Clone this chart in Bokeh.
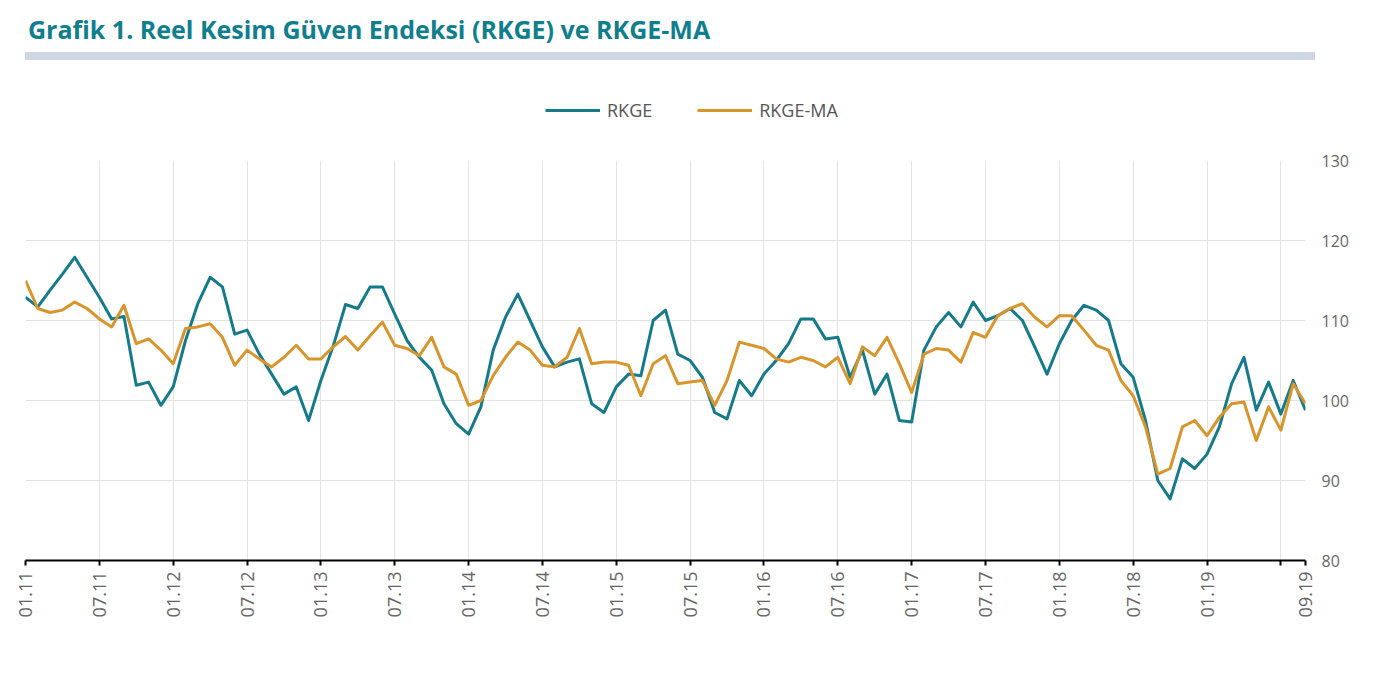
import math
from bokeh.plotting import figure
from bokeh.models import (Div, FixedTicker, Legend, LegendItem, ColumnDataSource)
from bokeh.layouts import column
from bokeh.embed import file_html
from bokeh.resources import INLINE

# ---- data ----
months = [f"{m:02d}.{y}" for y in range(11, 20) for m in range(1, 13)][:105]

rkge = [
    112.9, 111.7, 113.8, 115.8, 117.9, 115.4, 112.9, 110.2, 110.5, 101.9,
    102.3, 99.4, 101.7, 107.5, 112.1, 115.4, 114.2, 108.3, 108.8, 105.8,
    103.3, 100.8, 101.7, 97.5, 102.5, 106.8, 112.0, 111.5, 114.2, 114.2,
    110.8, 107.5, 105.4, 103.8, 99.6, 97.1, 95.8, 99.2, 106.3, 110.4,
    113.3, 110.0, 106.7, 104.2, 104.8, 105.2, 99.6, 98.5, 101.7, 103.3,
    103.1, 110.0, 111.3, 105.8, 105.0, 102.9, 98.5, 97.7, 102.5, 100.6,
    103.3, 105.0, 107.1, 110.2, 110.2, 107.7, 107.9, 102.9, 106.3, 100.8,
    103.3, 97.5, 97.3, 106.3, 109.2, 111.0, 109.2, 112.3, 110.0, 110.6,
    111.5, 110.0, 106.7, 103.3, 107.1, 110.0, 111.9, 111.3, 110.0, 104.6,
    102.9, 97.5, 90.0, 87.7, 92.7, 91.5, 93.3, 96.7, 102.1, 105.4,
    98.8, 102.3, 98.3, 102.5, 98.8,
]

rkge_ma = [
    115.0, 111.5, 111.0, 111.3, 112.3, 111.5, 110.2, 109.2, 111.9, 107.1,
    107.7, 106.3, 104.6, 109.0, 109.2, 109.6, 107.9, 104.4, 106.3, 105.2,
    104.2, 105.4, 106.9, 105.2, 105.2, 106.7, 108.0, 106.3, 108.1, 109.8,
    106.9, 106.5, 105.6, 107.9, 104.2, 103.3, 99.4, 100.0, 103.1, 105.4,
    107.3, 106.3, 104.4, 104.2, 105.4, 109.0, 104.6, 104.8, 104.8, 104.4,
    100.6, 104.6, 105.6, 102.1, 102.3, 102.5, 99.4, 102.5, 107.3, 106.9,
    106.5, 105.2, 104.8, 105.4, 105.0, 104.2, 105.4, 102.1, 106.7, 105.6,
    107.9, 104.6, 101.0, 105.8, 106.5, 106.3, 104.8, 108.5, 107.9, 110.6,
    111.5, 112.1, 110.4, 109.2, 110.6, 110.6, 108.8, 106.9, 106.3, 102.5,
    100.6, 96.7, 90.8, 91.5, 96.7, 97.5, 95.6, 97.9, 99.6, 99.8,
    95.0, 99.2, 96.3, 102.1, 99.6,
]

tick_labels = ["01.11", "07.11", "01.12", "07.12", "01.13", "07.13", "01.14",
               "07.14", "01.15", "07.15", "01.16", "07.16", "01.17", "07.17",
               "01.18", "07.18", "01.19", "09.19"]
y_ticks = [80, 90, 100, 110, 120, 130]
series_names = ["RKGE", "RKGE-MA"]

# ---- build ----
idx = list(range(len(months)))
src = ColumnDataSource(dict(x=idx, rkge=rkge, ma=rkge_ma, m=months))

TEAL = "#157b8b"
ORANGE = "#d8952c"
FONT = "Open Sans"
W = 1375

title_html = (
    '<div style="position:relative;width:1370px;height:52px;">'
    '<div style="position:absolute;left:23px;top:7px;font-family:\'Open Sans\';'
    'font-weight:bold;font-size:25px;color:#0f7e8d;white-space:nowrap;">'
    'Grafik 1. Reel Kesim Güven Endeksi (RKGE) ve RKGE-MA</div>'
    '<div style="position:absolute;left:20px;top:47px;width:1290px;height:8px;'
    'background:#cfd7e4;"></div></div>'
)
div = Div(text=title_html, width=1370, height=52)

# legend strip (its own small figure, so the legend sits above the plot frame);
# the series are drawn here too but fall outside this strip's ranges, so only
# the legend is visible
lg = figure(width=W, height=78, x_range=(-20, -10), y_range=(0, 1),
            x_axis_type=None, y_axis_type=None, output_backend="svg",
            toolbar_location=None, min_border=0)
lg.outline_line_color = None
lg.xgrid.visible = False
lg.ygrid.visible = False
l1 = lg.line("x", "rkge", source=src, line_color=TEAL, line_width=3)
l2 = lg.line("x", "ma", source=src, line_color=ORANGE, line_width=3)
legend = Legend(items=[LegendItem(label=series_names[0], renderers=[l1]),
                       LegendItem(label=series_names[1], renderers=[l2])],
                location=(520, 18), orientation="horizontal",
                glyph_width=55, glyph_height=20, label_standoff=7, spacing=45,
                padding=0, margin=0, border_line_color=None,
                background_fill_alpha=0, label_text_font=FONT,
                label_text_font_size="18px", label_text_color="#555555")
lg.add_layout(legend)

p = figure(width=W, height=520, x_range=(0, len(months) - 1), y_range=(80, 130),
           y_axis_location="right", output_backend="svg", toolbar_location=None,
           min_border_left=25, min_border_right=70, min_border_top=20,
           min_border_bottom=100)
p.outline_line_color = None
p.background_fill_color = "white"
p.border_fill_color = "white"

r1 = p.line("x", "rkge", source=src, line_color=TEAL, line_width=3, line_join="round")
r2 = p.line("x", "ma", source=src, line_color=ORANGE, line_width=3, line_join="round")

# x axis ticks: every 6 months + last month
tick_pos = [i for i, m in enumerate(months) if m in tick_labels]
all_ticks = list(range(0, len(months), 6)) + [len(months) - 1]
overrides = {t: "" for t in all_ticks}
for t in tick_pos:
    overrides[t] = months[t]
xa = p.xaxis[0]
xa.ticker = FixedTicker(ticks=all_ticks)
xa.major_label_overrides = overrides
xa.major_label_orientation = math.pi / 2
xa.axis_line_color = "black"
xa.axis_line_width = 2
xa.major_tick_line_color = "black"
xa.major_tick_line_width = 2
xa.major_tick_out = 5
xa.major_tick_in = 0
xa.minor_tick_line_color = None
xa.major_label_text_font = FONT
xa.major_label_text_font_size = "18px"
xa.major_label_text_color = "#666666"
xa.major_label_standoff = 6

ya = p.yaxis[0]
ya.ticker = FixedTicker(ticks=y_ticks)
ya.axis_line_color = None
ya.major_tick_line_color = None
ya.minor_tick_line_color = None
ya.major_label_text_font = FONT
ya.major_label_text_font_size = "16px"
ya.major_label_text_color = "#666666"
ya.major_label_standoff = 10

p.xgrid.ticker = FixedTicker(ticks=list(range(0, len(months) - 1, 6)))
p.xgrid.grid_line_color = "#e3e3e3"
p.xgrid.grid_line_width = 1
p.ygrid.ticker = FixedTicker(ticks=[90, 100, 110, 120, 130])
p.ygrid.grid_line_color = "#e3e3e3"
p.ygrid.grid_line_width = 1

layout = column(div, lg, p, spacing=0)
open("out.html", "w").write(file_html(layout, INLINE))
